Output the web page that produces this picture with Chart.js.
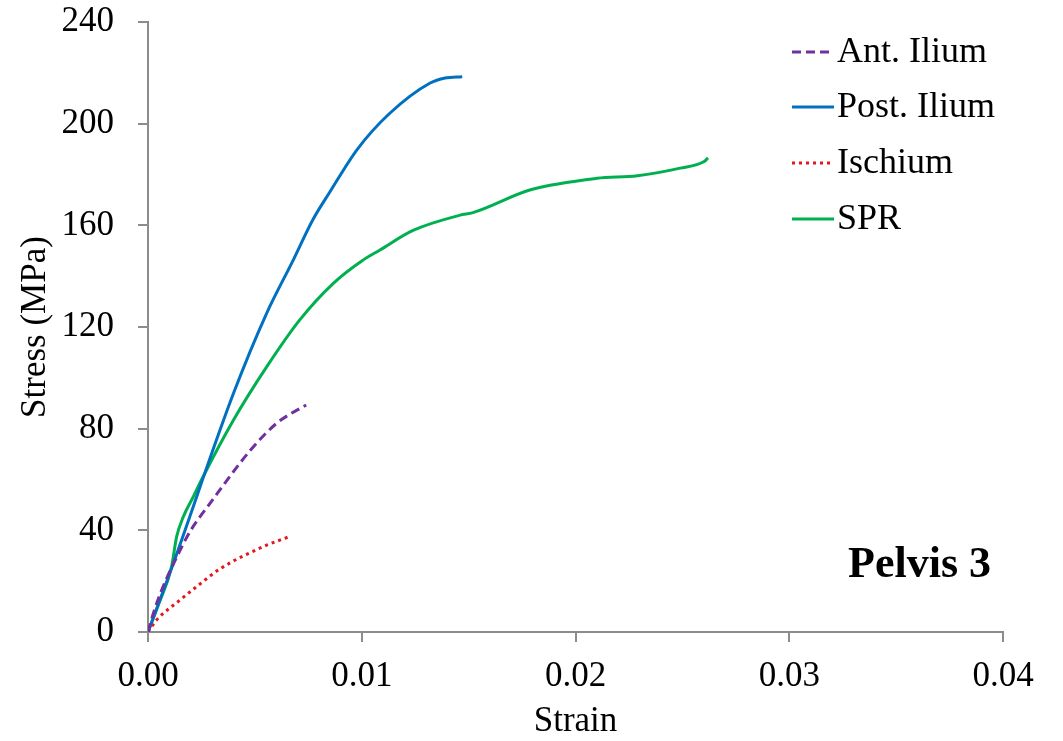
<!DOCTYPE html>
<html>
<head>
<meta charset="utf-8">
<script src="https://cdn.jsdelivr.net/npm/chart.js@4.4.1/dist/chart.umd.min.js"></script>
<style>
    html, body { margin: 0; padding: 0; background: #fff; }
    #wrap { width: 1063px; height: 741px; }
</style>
</head>
<body>
<div id="wrap"><canvas id="stress-strain" width="1063" height="741"></canvas></div>
<script>
// values (strain, stress in MPa)
const antIliumStrain = [0, 0.00025, 0.00064, 0.0012, 0.0020, 0.0029, 0.0048, 0.0060, 0.0066, 0.0074];
const antIliumStress = [0, 7.3, 16.5, 27, 40, 50.6, 71.6, 82, 85.5, 89.3];

const postIliumStrain = [0, 0.0011, 0.0040, 0.00555, 0.0068, 0.0077, 0.0085, 0.0098, 0.0113, 0.0132, 0.0139, 0.0147];
const postIliumStress = [0, 25, 93.9, 125.4, 146.4, 162, 173, 190, 204, 216, 218, 218.5];

const ischiumStrain = [0, 0.0004, 0.0015, 0.0023, 0.0034, 0.0054, 0.0066];
const ischiumStress = [0, 4.7, 12.6, 18, 25, 33.6, 37.5];

const sprStrain = [0, 0.0005, 0.0011, 0.00134, 0.00165, 0.00212, 0.0025, 0.0040, 0.00555, 0.0071, 0.00867, 0.0100, 0.01085, 0.0124, 0.0146, 0.0152, 0.0179, 0.0210, 0.0229, 0.0249, 0.0260, 0.0262];
const sprStress = [0, 11, 25.6, 37.5, 45.3, 53.2, 59.8, 83.4, 104.3, 122.8, 137.2, 146, 150.3, 158, 164, 165, 174, 178.5, 179.5, 182.5, 185, 186.5];

const seriesNames = ["Ant. Ilium", "Post. Ilium", "Ischium", "SPR"];
const xTicks = [0, 0.01, 0.02, 0.03, 0.04];
const yTicks = [0, 40, 80, 120, 160, 200, 240];

function toPoints(xs, ys) {
    return xs.map((x, i) => ({ x: x, y: ys[i] }));
}

const FONT = "'Liberation Serif', 'Times New Roman', serif";
const AXIS_GREY = "#8c8c8c";

// legend + "Pelvis 3" label drawn by hand, like the original figure
const overlayPlugin = {
    id: "overlay",
    afterDraw(chart) {
        const ctx = chart.ctx;
        ctx.save();
        ctx.font = "36px " + FONT;
        ctx.textBaseline = "middle";
        ctx.fillStyle = "#000";
        const rows = [52, 107, 163, 219];
        chart.data.datasets.forEach((ds, i) => {
            const y = rows[i];
            ctx.beginPath();
            ctx.strokeStyle = ds.borderColor;
            ctx.lineWidth = ds.borderWidth;
            ctx.setLineDash(ds.borderDash || []);
            ctx.moveTo(792, y);
            ctx.lineTo(834, y);
            ctx.stroke();
            ctx.setLineDash([]);
            ctx.fillText(ds.label, 837, y + 1);
        });
        ctx.font = "bold 44px " + FONT;
        ctx.textAlign = "right";
        ctx.fillText("Pelvis 3", 991, 566);
        ctx.restore();
    },
};

const ctx = document.getElementById("stress-strain");
new Chart(ctx, {
    type: "scatter",
    data: {
        datasets: [
            {
                label: seriesNames[0],
                data: toPoints(antIliumStrain, antIliumStress),
                borderColor: "#7030A0",
                borderWidth: 3,
                borderDash: [9, 5],
            },
            {
                label: seriesNames[1],
                data: toPoints(postIliumStrain, postIliumStress),
                borderColor: "#0070C0",
                borderWidth: 3,
            },
            {
                label: seriesNames[2],
                data: toPoints(ischiumStrain, ischiumStress),
                borderColor: "#E8141B",
                borderWidth: 3,
                borderDash: [3, 4],
            },
            {
                label: seriesNames[3],
                data: toPoints(sprStrain, sprStress),
                borderColor: "#00B050",
                borderWidth: 3,
            },
        ],
    },
    options: {
        responsive: false,
        animation: false,
        devicePixelRatio: 1,
        showLine: true,
        layout: { padding: { left: 0, right: 60, top: 22, bottom: 0 } },
        elements: {
            point: { radius: 0, hoverRadius: 0 },
            line: { cubicInterpolationMode: "monotone", fill: false },
        },
        plugins: {
            legend: { display: false },
            tooltip: { enabled: false },
        },
        scales: {
            x: {
                type: "linear",
                min: 0,
                max: 0.04,
                afterBuildTicks: (scale) => {
                    scale.ticks = xTicks.map((v) => ({ value: v }));
                },
                afterFit: (scale) => {
                    scale.height = 109;
                },
                ticks: {
                    color: "#000",
                    font: { family: FONT, size: 35 },
                    padding: 14,
                    maxRotation: 0,
                    callback: (v) => Number(v).toFixed(2),
                },
                grid: {
                    drawOnChartArea: false,
                    drawTicks: true,
                    tickLength: 10,
                    color: AXIS_GREY,
                    lineWidth: 2,
                },
                border: { color: AXIS_GREY, width: 2 },
                title: {
                    display: true,
                    text: "Strain",
                    color: "#000",
                    font: { family: FONT, size: 35, lineHeight: 1.1 },
                    padding: { top: 0, bottom: 0 },
                },
            },
            y: {
                type: "linear",
                min: 0,
                max: 240,
                afterBuildTicks: (scale) => {
                    scale.ticks = yTicks.map((v) => ({ value: v }));
                },
                afterFit: (scale) => {
                    scale.width = 148;
                    scale.paddingTop = 0;
                    scale.paddingBottom = 0;
                },
                ticks: {
                    color: "#000",
                    font: { family: FONT, size: 35 },
                    padding: 24,
                },
                grid: {
                    drawOnChartArea: false,
                    drawTicks: true,
                    tickLength: 10,
                    color: AXIS_GREY,
                    lineWidth: 2,
                },
                border: { color: AXIS_GREY, width: 2 },
                title: {
                    display: true,
                    text: "Stress (MPa)",
                    color: "#000",
                    font: { family: FONT, size: 35, lineHeight: 1.1 },
                    padding: { top: 17, bottom: 0 },
                },
            },
        },
    },
    plugins: [overlayPlugin],
});
</script>
</body>
</html>
